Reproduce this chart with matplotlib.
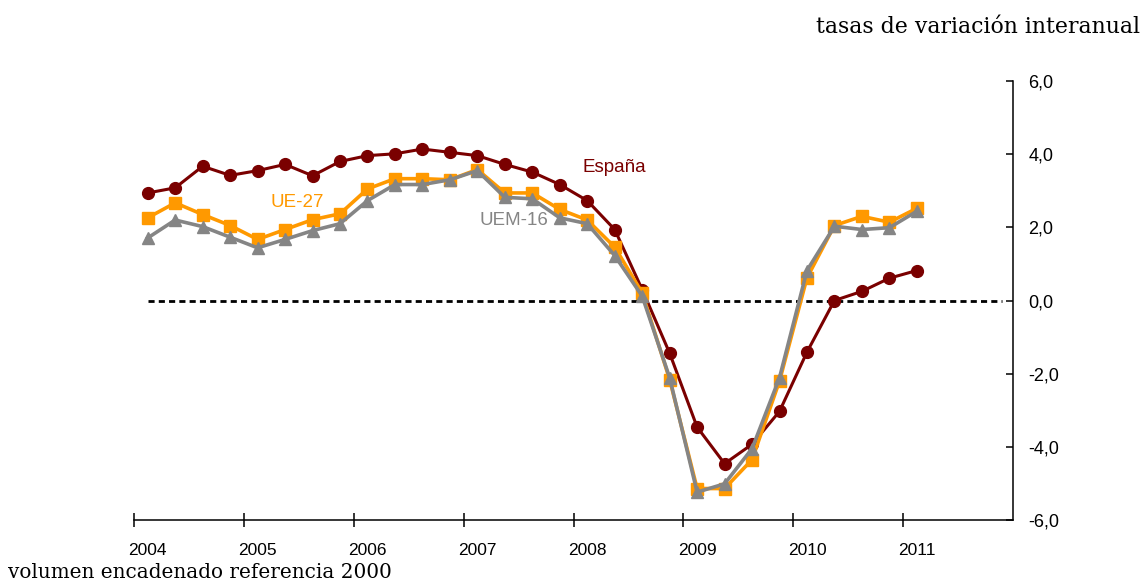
import numpy as np
import matplotlib
matplotlib.use("Agg")
import matplotlib.pyplot as plt

# ---------------------------------------------------------------
# Datos: PIB, tasas de variación interanual (2004T1 - 2011T1)
# ---------------------------------------------------------------
anios = [2004, 2005, 2006, 2007, 2008, 2009, 2010, 2011]
trimestres = [(a, q) for a in anios for q in (1, 2, 3, 4)][:29]

espana = [2.94, 3.08, 3.67, 3.42, 3.55, 3.72, 3.41, 3.80,
          3.96, 4.01, 4.14, 4.05, 3.96, 3.72, 3.51, 3.17,
          2.73, 1.94, 0.30, -1.44, -3.46, -4.46, -3.93, -3.03,
          -1.41, 0.00, 0.25, 0.61, 0.82]
ue27 = [2.26, 2.67, 2.35, 2.05, 1.67, 1.94, 2.21, 2.37,
        3.05, 3.33, 3.33, 3.30, 3.58, 2.94, 2.94, 2.49,
        2.20, 1.46, 0.21, -2.16, -5.14, -5.14, -4.35, -2.20,
        0.62, 2.05, 2.30, 2.14, 2.52]
uem16 = [1.71, 2.20, 2.02, 1.73, 1.44, 1.67, 1.91, 2.10,
         2.73, 3.17, 3.17, 3.30, 3.55, 2.82, 2.78, 2.26,
         2.10, 1.23, 0.12, -2.11, -5.24, -5.01, -4.05, -2.11,
         0.82, 2.03, 1.94, 1.99, 2.44]

yticks = [-6, -4, -2, 0, 2, 4, 6]
ytick_labels = ["-6,0", "-4,0", "-2,0", "0,0", "2,0", "4,0", "6,0"]

# posición de cada trimestre: centro del trimestre dentro del año
x = np.array([a + (q - 0.5) / 4 for a, q in trimestres])

rojo = "#7a0000"
naranja = "#ff9900"
gris = "#858585"
sans = ["Liberation Sans", "DejaVu Sans"]

fig = plt.figure(figsize=(11.45, 5.82), dpi=100)
ax = fig.add_axes([134 / 1145, 62 / 582, 879 / 1145, 439 / 582])

# línea de cero
ax.plot([x[0], 2011.9], [0, 0], color="black", lw=2.0,
        ls=(0, (2.2, 1.5)), zorder=1)

ax.plot(x, espana, "-o", color=rojo, lw=2.2, ms=8.5, zorder=3)
ax.plot(x, ue27, "-s", color=naranja, lw=2.6, ms=8.5, zorder=4)
ax.plot(x, uem16, "-^", color=gris, lw=2.6, ms=9, zorder=5)

# rótulos de las series
ax.text(2008.37, 3.63, "España", color=rojo, fontsize=13.5, family=sans,
        ha="center", va="center")
ax.text(2005.49, 2.68, "UE-27", color=naranja, fontsize=13.5, family=sans,
        ha="center", va="center")
ax.text(2007.46, 2.2, "UEM-16", color=gris, fontsize=13.5, family=sans,
        ha="center", va="center")

ax.set_xlim(2004, 2012)
ax.set_ylim(-6, 6)

for s in ("left", "top"):
    ax.spines[s].set_visible(False)
for s in ("right", "bottom"):
    ax.spines[s].set_linewidth(1.1)

ax.yaxis.tick_right()
ax.set_yticks(yticks)
ax.set_yticklabels(ytick_labels, fontsize=13, family=sans, color="black")
ax.tick_params(axis="y", direction="in", length=5, width=1.1, pad=11)

ax.set_xticks(anios)
ax.set_xticklabels([])
ax.tick_params(axis="x", which="major", direction="inout", length=10, width=1.1)
ax.set_xticks([a + 0.125 for a in anios], minor=True)
ax.set_xticklabels([str(a) for a in anios], minor=True, fontsize=12.5,
                   family=sans, color="black")
ax.tick_params(axis="x", which="minor", length=0, pad=16.5)

fig.text(1140 / 1145, 1 - 33 / 582, "tasas de variación interanual",
         family="DejaVu Serif", fontsize=15.8, ha="right", va="baseline")
fig.text(8 / 1145, 1 - 578 / 582, "volumen encadenado referencia 2000",
         family="DejaVu Serif", fontsize=14.4, ha="left", va="baseline")

fig.savefig("out.png", dpi=100)
